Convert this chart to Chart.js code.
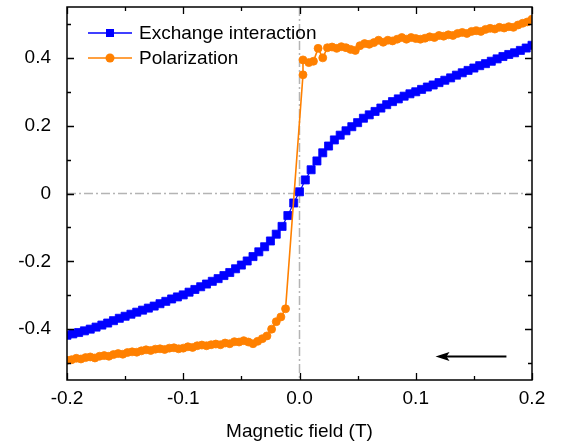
<!DOCTYPE html>
<html>
<head>
<meta charset="utf-8">
<script src="https://cdn.jsdelivr.net/npm/chart.js@4.4.1/dist/chart.umd.min.js"></script>
<style>
  html, body { margin: 0; padding: 0; background: #ffffff; }
  #wrap { width: 562px; height: 447px; }
</style>
</head>
<body>
<div id="wrap"><canvas id="c" width="562" height="447"></canvas></div>
<script>
// ---- data ----
const seriesNames = ['Exchange interaction', 'Polarization'];

const exchangeField = [-0.200,-0.195,-0.190,-0.185,-0.180,-0.175,-0.170,-0.165,-0.160,-0.155,
  -0.150,-0.145,-0.140,-0.135,-0.130,-0.125,-0.120,-0.115,-0.110,-0.105,
  -0.100,-0.095,-0.090,-0.085,-0.080,-0.075,-0.070,-0.065,-0.060,-0.055,
  -0.050,-0.045,-0.040,-0.035,-0.030,-0.025,-0.020,-0.015,-0.010,-0.005,
  0.000,
  0.005,0.010,0.015,0.020,0.025,0.030,0.035,0.040,0.045,0.050,
  0.055,0.060,0.065,0.070,0.075,0.080,0.085,0.090,0.095,0.100,
  0.105,0.110,0.115,0.120,0.125,0.130,0.135,0.140,0.145,0.150,
  0.155,0.160,0.165,0.170,0.175,0.180,0.185,0.190,0.195,0.200];
const exchangeValues = [-0.418,-0.414,-0.410,-0.405,-0.400,-0.394,-0.388,-0.382,-0.375,-0.368,
  -0.362,-0.356,-0.350,-0.344,-0.338,-0.332,-0.325,-0.318,-0.311,-0.305,
  -0.299,-0.291,-0.283,-0.275,-0.267,-0.259,-0.251,-0.242,-0.233,-0.222,
  -0.211,-0.199,-0.186,-0.172,-0.157,-0.140,-0.120,-0.097,-0.065,-0.028,
  0.005,
  0.040,0.070,0.096,0.120,0.140,0.158,0.172,0.185,0.197,0.209,
  0.222,0.232,0.242,0.252,0.262,0.271,0.279,0.287,0.294,0.300,
  0.307,0.314,0.320,0.327,0.334,0.341,0.349,0.356,0.363,0.370,
  0.377,0.383,0.390,0.397,0.404,0.410,0.415,0.422,0.429,0.437];

const polarizationField = [-0.200,-0.196,-0.192,-0.188,-0.184,-0.180,-0.176,-0.172,-0.168,-0.164,
  -0.160,-0.156,-0.152,-0.148,-0.144,-0.140,-0.136,-0.132,-0.128,-0.124,
  -0.120,-0.116,-0.112,-0.108,-0.104,-0.100,-0.096,-0.092,-0.088,-0.084,
  -0.080,-0.076,-0.072,-0.068,-0.064,-0.060,-0.056,-0.052,-0.048,-0.044,
  -0.040,-0.036,-0.032,-0.028,-0.024,-0.020,-0.016,-0.012,
  0.003,0.003,0.008,0.012,0.016,0.020,0.024,0.028,0.032,0.036,
  0.040,0.044,0.048,0.052,0.056,0.060,0.064,0.068,0.072,0.076,
  0.080,0.084,0.088,0.092,0.096,0.100,0.104,0.108,0.112,0.116,
  0.120,0.124,0.128,0.132,0.136,0.140,0.144,0.148,0.152,0.156,
  0.160,0.164,0.168,0.172,0.176,0.180,0.184,0.188,0.192,0.196,0.200];
const polarizationValues = [-0.492,-0.490,-0.486,-0.488,-0.484,-0.482,-0.485,-0.480,-0.478,-0.480,
  -0.475,-0.472,-0.474,-0.469,-0.467,-0.468,-0.464,-0.461,-0.463,-0.459,
  -0.458,-0.460,-0.456,-0.455,-0.458,-0.456,-0.452,-0.454,-0.449,-0.447,
  -0.449,-0.446,-0.444,-0.446,-0.441,-0.443,-0.437,-0.438,-0.434,-0.438,
  -0.443,-0.436,-0.428,-0.420,-0.400,-0.378,-0.364,-0.340,
  0.350,0.394,0.386,0.390,0.428,0.400,0.430,0.432,0.428,0.433,
  0.430,0.425,0.422,0.436,0.442,0.440,0.445,0.452,0.446,0.452,
  0.450,0.455,0.460,0.455,0.460,0.457,0.455,0.458,0.462,0.460,
  0.466,0.464,0.468,0.466,0.472,0.475,0.472,0.478,0.480,0.478,
  0.484,0.487,0.485,0.490,0.488,0.492,0.490,0.497,0.502,0.506,0.514];

const xTickValues = [-0.2, -0.1, 0.0, 0.1, 0.2];
const xTickLabels = ['-0.2', '-0.1', '0.0', '0.1', '0.2'];
const xMinorTicks = [-0.15, -0.05, 0.05, 0.15];
const yTickValues = [-0.4, -0.2, 0, 0.2, 0.4];
const yTickLabels = ['-0.4', '-0.2', '0', '0.2', '0.4'];
const yMinorTicks = [-0.5, -0.3, -0.1, 0.1, 0.3, 0.5];
const xRange = [-0.2, 0.2];
const yRange = [-0.55, 0.55];
const xTitle = 'Magnetic field (T)';
const arrowFrom = [0.178, -0.481];
const arrowTo = [0.117, -0.481];

// ---- styling ----
const FONT = '"Liberation Sans", Arial, sans-serif';
const BLUE = '#0000ff';
const ORANGE = '#ff8000';

function pts(xs, ys) { return xs.map((x, i) => ({ x: x, y: ys[i] })); }

const guidesPlugin = {
  id: 'guides',
  beforeDatasetsDraw(chart) {
    const { ctx, chartArea: a, scales: { x, y } } = chart;
    ctx.save();
    ctx.strokeStyle = '#b4b4b4';
    ctx.lineWidth = 1.5;
    ctx.setLineDash([9, 3, 2, 3]);
    const x0 = x.getPixelForValue(0), y0 = y.getPixelForValue(0);
    ctx.beginPath(); ctx.moveTo(a.left, y0); ctx.lineTo(a.right, y0); ctx.stroke();
    ctx.beginPath(); ctx.moveTo(x0, a.top); ctx.lineTo(x0, a.bottom); ctx.stroke();
    ctx.restore();
  }
};

const framePlugin = {
  id: 'frame',
  afterDatasetsDraw(chart) {
    const { ctx, chartArea: a, scales: { x, y } } = chart;
    ctx.save();
    // arrow
    const ax1 = x.getPixelForValue(arrowFrom[0]), ay1 = y.getPixelForValue(arrowFrom[1]);
    const ax2 = x.getPixelForValue(arrowTo[0]), ay2 = y.getPixelForValue(arrowTo[1]);
    ctx.strokeStyle = '#000'; ctx.fillStyle = '#000'; ctx.lineWidth = 2;
    ctx.beginPath(); ctx.moveTo(ax1, ay1); ctx.lineTo(ax2 + 10, ay2); ctx.stroke();
    ctx.beginPath(); ctx.moveTo(ax2, ay2); ctx.lineTo(ax2 + 14, ay2 - 4.5); ctx.lineTo(ax2 + 11, ay2); ctx.lineTo(ax2 + 14, ay2 + 4.5); ctx.closePath(); ctx.fill();

    // frame
    ctx.lineWidth = 1.5;
    ctx.strokeRect(a.left, a.top, a.right - a.left, a.bottom - a.top);
    ctx.lineWidth = 1.3;
    const tick = (vals, len) => {
      vals.forEach(v => {
        const px = Math.round(x.getPixelForValue(v)) + 0.5;
        ctx.beginPath();
        ctx.moveTo(px, a.bottom); ctx.lineTo(px, a.bottom - len);
        ctx.moveTo(px, a.top); ctx.lineTo(px, a.top + len);
        ctx.stroke();
      });
    };
    const ytick = (vals, len) => {
      vals.forEach(v => {
        const py = Math.round(y.getPixelForValue(v)) + 0.5;
        ctx.beginPath();
        ctx.moveTo(a.left, py); ctx.lineTo(a.left + len, py);
        ctx.moveTo(a.right, py); ctx.lineTo(a.right - len, py);
        ctx.stroke();
      });
    };
    tick(xTickValues, 7); tick(xMinorTicks, 4);
    ytick(yTickValues, 7); ytick(yMinorTicks, 4);

    // legend
    const rows = [
      { name: seriesNames[0], color: BLUE, style: 'rect', yy: 33 },
      { name: seriesNames[1], color: ORANGE, style: 'circle', yy: 58 }
    ];
    rows.forEach(r => {
      ctx.strokeStyle = r.color; ctx.fillStyle = r.color;
      ctx.lineWidth = 1.5;
      ctx.beginPath(); ctx.moveTo(88, r.yy); ctx.lineTo(132, r.yy); ctx.stroke();
      if (r.style === 'rect') { ctx.fillRect(106, r.yy - 4, 8, 8); }
      else { ctx.beginPath(); ctx.arc(110, r.yy, 4.5, 0, Math.PI * 2); ctx.fill(); }
      ctx.fillStyle = '#000';
      ctx.font = '19px ' + FONT;
      ctx.textBaseline = 'middle';
      ctx.textAlign = 'left';
      ctx.fillText(r.name, 139, r.yy + 1);
    });
    ctx.restore();
  }
};

new Chart(document.getElementById('c'), {
  type: 'scatter',
  data: {
    datasets: [
      {
        label: seriesNames[1],
        data: pts(polarizationField, polarizationValues),
        showLine: true,
        borderColor: ORANGE,
        backgroundColor: ORANGE,
        borderWidth: 1.6,
        pointStyle: 'circle',
        pointRadius: 4,
        pointBorderWidth: 0.8,
        pointBorderColor: ORANGE,
        pointBackgroundColor: ORANGE,
        order: 0,
        clip: 0
      },
      {
        label: seriesNames[0],
        data: pts(exchangeField, exchangeValues),
        showLine: true,
        borderColor: BLUE,
        backgroundColor: BLUE,
        borderWidth: 1.2,
        pointStyle: 'rect',
        pointRadius: 5.7,
        pointBorderWidth: 0.8,
        pointBorderColor: BLUE,
        pointBackgroundColor: BLUE,
        order: 1,
        clip: 0
      }
    ]
  },
  options: {
    responsive: false,
    devicePixelRatio: 1,
    animation: false,
    layout: { padding: { top: 7, right: 30, left: 0, bottom: 0 } },
    plugins: { legend: { display: false }, tooltip: { enabled: false } },
    scales: {
      x: {
        type: 'linear', min: xRange[0], max: xRange[1],
        afterFit(s) { s.height = 67; s.paddingLeft = 0; s.paddingRight = 0; },
        afterBuildTicks(s) { s.ticks = xTickValues.map(v => ({ value: v })); },
        grid: { display: false, drawTicks: false },
        border: { display: false },
        ticks: {
          padding: 7, color: '#000', font: { family: FONT, size: 19 },
          autoSkip: false, maxRotation: 0,
          callback: (v, i) => xTickLabels[i]
        },
        title: { display: true, text: xTitle, color: '#000', font: { family: FONT, size: 19 }, padding: { top: 0, bottom: 4 } }
      },
      y: {
        type: 'linear', min: yRange[0], max: yRange[1],
        afterFit(s) { s.width = 67; s.paddingTop = 0; s.paddingBottom = 0; },
        afterBuildTicks(s) { s.ticks = yTickValues.map(v => ({ value: v })); },
        grid: { display: false, drawTicks: false },
        border: { display: false },
        ticks: {
          padding: 16, color: '#000', font: { family: FONT, size: 19 },
          autoSkip: false,
          callback: (v, i) => yTickLabels[i]
        }
      }
    }
  },
  plugins: [guidesPlugin, framePlugin]
});
</script>
</body>
</html>
